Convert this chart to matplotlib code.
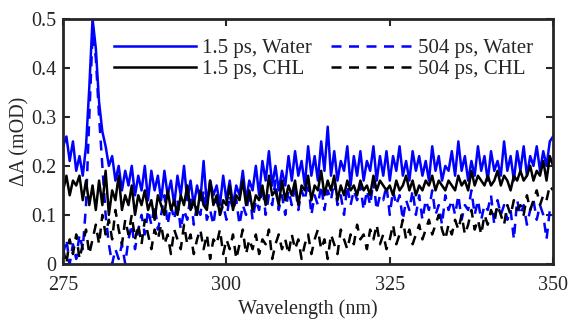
import numpy as np
import matplotlib
matplotlib.use('Agg')
import matplotlib.pyplot as plt

plt.rcParams['font.family'] = ['Liberation Serif', 'DejaVu Serif']

# wavelength grid (nm)
wl = np.arange(275, 350.01, 0.5)

# 1.5 ps, Water
water_15 = [
    0.24, 0.26, 0.21, 0.25, 0.19, 0.22, 0.18, 0.24, 0.36, 0.50,
    0.44, 0.33, 0.27, 0.24, 0.20, 0.22, 0.17, 0.20, 0.15, 0.19,
    0.16, 0.20, 0.14, 0.18, 0.15, 0.20, 0.13, 0.19, 0.15, 0.18,
    0.13, 0.19, 0.14, 0.17, 0.12, 0.18, 0.14, 0.20, 0.13, 0.17,
    0.12, 0.16, 0.13, 0.21, 0.12, 0.17, 0.14, 0.16, 0.12, 0.18,
    0.13, 0.17, 0.12, 0.16, 0.14, 0.19, 0.13, 0.17, 0.15, 0.20,
    0.14, 0.21, 0.17, 0.23, 0.16, 0.20, 0.15, 0.19, 0.16, 0.22,
    0.17, 0.23, 0.18, 0.21, 0.16, 0.24, 0.18, 0.22, 0.17, 0.25,
    0.19, 0.28, 0.18, 0.23, 0.17, 0.21, 0.19, 0.24, 0.16, 0.22,
    0.18, 0.23, 0.17, 0.21, 0.19, 0.24, 0.17, 0.22, 0.18, 0.23,
    0.17, 0.22, 0.19, 0.24, 0.18, 0.21, 0.17, 0.23, 0.19, 0.22,
    0.18, 0.21, 0.17, 0.24, 0.19, 0.22, 0.17, 0.20, 0.19, 0.23,
    0.18, 0.25, 0.19, 0.22, 0.17, 0.21, 0.18, 0.24, 0.19, 0.22,
    0.17, 0.23, 0.19, 0.21, 0.18, 0.25, 0.19, 0.22, 0.17, 0.23,
    0.19, 0.24, 0.18, 0.22, 0.20, 0.24, 0.19, 0.23, 0.20, 0.25,
    0.26]

# 504 ps, Water
water_504 = [
    0.02, 0.05, 0.00, 0.04, 0.01, 0.06, 0.03, 0.12, 0.30, 0.47,
    0.42, 0.30, 0.20, 0.10, 0.04, 0.00, 0.03, 0.01, 0.04, 0.00,
    0.05, 0.08, 0.03, 0.07, 0.10, 0.06, 0.11, 0.08, 0.12, 0.07,
    0.10, 0.14, 0.08, 0.12, 0.09, 0.13, 0.07, 0.11, 0.09, 0.14,
    0.08, 0.12, 0.10, 0.15, 0.09, 0.11, 0.08, 0.13, 0.10, 0.12,
    0.09, 0.14, 0.11, 0.13, 0.08, 0.12, 0.10, 0.15, 0.09, 0.13,
    0.11, 0.16, 0.10, 0.14, 0.12, 0.17, 0.11, 0.14, 0.10, 0.15,
    0.12, 0.16, 0.11, 0.15, 0.13, 0.17, 0.10, 0.14, 0.12, 0.16,
    0.11, 0.15, 0.13, 0.17, 0.12, 0.14, 0.10, 0.16, 0.12, 0.15,
    0.13, 0.16, 0.11, 0.15, 0.12, 0.17, 0.11, 0.14, 0.13, 0.16,
    0.10, 0.15, 0.12, 0.14, 0.09, 0.13, 0.11, 0.15, 0.10, 0.14,
    0.09, 0.13, 0.11, 0.15, 0.10, 0.12, 0.08, 0.14, 0.11, 0.13,
    0.10, 0.14, 0.09, 0.12, 0.11, 0.15, 0.10, 0.13, 0.09, 0.12,
    0.11, 0.14, 0.08, 0.13, 0.10, 0.12, 0.09, 0.11, 0.05, 0.13,
    0.10, 0.12, 0.08, 0.11, 0.13, 0.09, 0.12, 0.10, 0.05, 0.11,
    0.12]

# 1.5 ps, CHL
chl_15 = [
    0.15, 0.18, 0.14, 0.17, 0.16, 0.18, 0.13, 0.17, 0.12, 0.16,
    0.11, 0.17, 0.12, 0.19, 0.10, 0.15, 0.13, 0.18, 0.11, 0.14,
    0.12, 0.16, 0.10, 0.14, 0.12, 0.15, 0.11, 0.13, 0.09, 0.14,
    0.12, 0.10, 0.15, 0.11, 0.13, 0.10, 0.14, 0.12, 0.16, 0.11,
    0.13, 0.10, 0.15, 0.12, 0.11, 0.17, 0.12, 0.14, 0.10, 0.13,
    0.12, 0.16, 0.11, 0.14, 0.13, 0.17, 0.12, 0.15, 0.11, 0.14,
    0.13, 0.16, 0.12, 0.18, 0.14, 0.15, 0.12, 0.17, 0.13, 0.16,
    0.14, 0.17, 0.12, 0.16, 0.15, 0.18, 0.13, 0.16, 0.15, 0.19,
    0.14, 0.17, 0.15, 0.18, 0.13, 0.16, 0.14, 0.17, 0.15, 0.16,
    0.14, 0.17, 0.15, 0.16, 0.14, 0.18, 0.15, 0.17, 0.16, 0.15,
    0.16, 0.14, 0.17, 0.15, 0.16, 0.18, 0.15, 0.17, 0.14, 0.16,
    0.15, 0.17, 0.16, 0.18, 0.15, 0.17, 0.16, 0.15, 0.17, 0.16,
    0.15, 0.18, 0.16, 0.17, 0.15, 0.19, 0.16, 0.18, 0.17, 0.16,
    0.18, 0.16, 0.17, 0.19, 0.16, 0.18, 0.17, 0.15, 0.18, 0.17,
    0.19, 0.17, 0.18, 0.20, 0.17, 0.19, 0.18, 0.21, 0.17, 0.22,
    0.20]

# 504 ps, CHL
chl_504 = [
    0.03, 0.00, 0.05, 0.02, 0.06, 0.01, 0.04, 0.07, 0.02, 0.05,
    0.08, 0.04, 0.10, 0.06, 0.09, 0.05, 0.11, 0.07, 0.04, 0.09,
    0.06, 0.10, 0.05, 0.08, 0.04, 0.09, 0.06, 0.03, 0.07, 0.05,
    0.08, 0.04, 0.06, 0.02, 0.07, 0.05, 0.03, 0.08, 0.04, 0.06,
    0.02, 0.05, 0.07, 0.03, 0.06, 0.01, 0.05, 0.04, 0.07, 0.02,
    0.05, 0.03, 0.06, 0.01, 0.04, 0.07, 0.02, 0.05, 0.03, 0.06,
    0.02, 0.05, 0.04, 0.07, 0.01, 0.04, 0.06, 0.03, 0.05, 0.02,
    0.06, 0.03, 0.05, 0.01, 0.04, 0.06, 0.02, 0.05, 0.07, 0.03,
    0.05, 0.01, 0.06, 0.04, 0.02, 0.07, 0.05, 0.03, 0.06, 0.04,
    0.08, 0.05, 0.06, 0.03, 0.07, 0.05, 0.08, 0.04, 0.06, 0.03,
    0.05, 0.08, 0.04, 0.06, 0.09, 0.05, 0.07, 0.04, 0.06, 0.08,
    0.05, 0.07, 0.09, 0.06, 0.08, 0.10, 0.07, 0.05, 0.08, 0.06,
    0.09, 0.07, 0.10, 0.06, 0.08, 0.11, 0.07, 0.09, 0.06, 0.10,
    0.08, 0.11, 0.09, 0.12, 0.10, 0.08, 0.12, 0.10, 0.13, 0.11,
    0.12, 0.10, 0.14, 0.11, 0.13, 0.15, 0.12, 0.14, 0.13, 0.16,
    0.15]

xticks = [275, 300, 325, 350]
yticks = [0, 0.1, 0.2, 0.3, 0.4, 0.5]
ytick_labels = ['0', '0.1', '0.2', '0.3', '0.4', '0.5']

fig = plt.figure(figsize=(5.69, 3.21), dpi=100)
ax = fig.add_axes([0.111, 0.178, 0.861, 0.763])

lw = 1.8
dash = (4, 3)
l1, = ax.plot(wl, water_15, color='#0000ff', lw=lw, label='1.5 ps, Water')
l2, = ax.plot(wl, water_504, color='#0000ff', lw=lw, ls=(0, dash), label='504 ps, Water')
l3, = ax.plot(wl, chl_15, color='black', lw=lw, label='1.5 ps, CHL')
l4, = ax.plot(wl, chl_504, color='black', lw=lw, ls=(0, dash), label='504 ps, CHL')

ax.set_xlim(275, 350)
ax.set_ylim(0, 0.5)
ax.set_xticks(xticks)
ax.set_yticks(yticks)
ax.set_yticklabels(ytick_labels)
ax.tick_params(direction='in', top=True, right=True, length=5, width=1.5,
               labelsize=14.5, color='#262626', labelcolor='#262626')
ax.tick_params(axis='x', pad=9)
ax.tick_params(axis='y', pad=5)
for s in ax.spines.values():
    s.set_linewidth(2)
    s.set_color('#262626')

ax.set_xlabel('Wavelength (nm)', fontsize=14.5, labelpad=3, color='#262626')
ax.set_ylabel('ΔA (mOD)', fontsize=14.5, labelpad=1, color='#262626')

leg = ax.legend(handles=[l1, l3, l2, l4], ncol=2, frameon=False,
                loc='upper right', bbox_to_anchor=(0.985, 0.97),
                fontsize=15, handlelength=3.9, handletextpad=0.3,
                columnspacing=0.9, labelspacing=0.05, borderaxespad=0.2)
for t in leg.get_texts():
    t.set_color('#262626')

fig.savefig('out.png', dpi=100)
